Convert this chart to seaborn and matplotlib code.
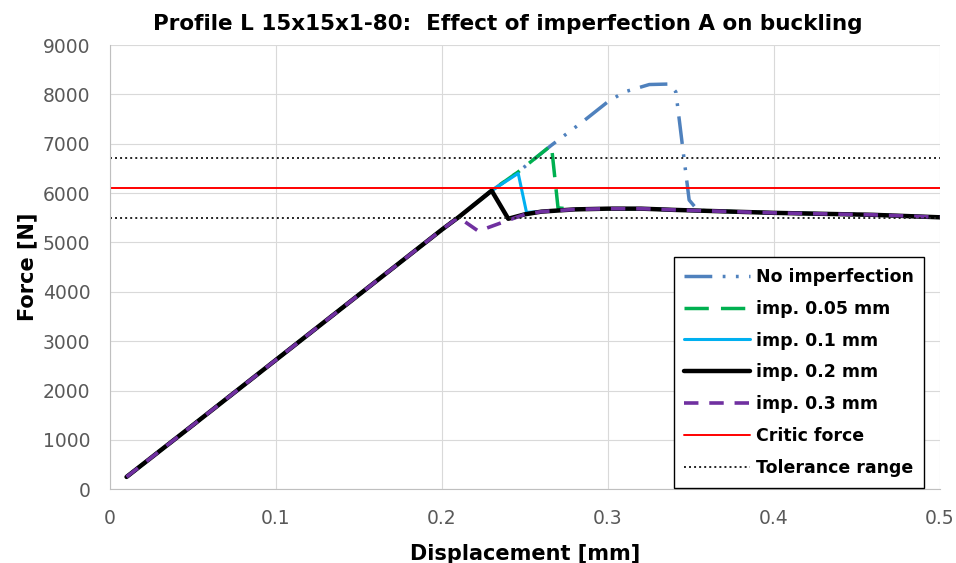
import matplotlib
matplotlib.use("Agg")
import matplotlib.pyplot as plt
import pandas as pd
import seaborn as sns

# shared parts of the curves
lin_x = [0.01, 0.05, 0.10, 0.15, 0.20, 0.21]
lin_y = [250, 1300, 2620, 3940, 5260, 5510]
tail_x = [0.28, 0.30, 0.32, 0.34, 0.36, 0.38, 0.40, 0.43, 0.46, 0.50]
tail_y = [5670, 5685, 5685, 5660, 5640, 5620, 5600, 5580, 5560, 5510]

no_imp_x = lin_x + [0.23, 0.246, 0.266, 0.285, 0.30, 0.31, 0.325, 0.337, 0.341, 0.345, 0.349, 0.354] + tail_x[4:]
no_imp_y = lin_y + [6050, 6430, 6970, 7450, 7850, 8050, 8200, 8210, 8050, 6950, 5860, 5660] + tail_y[4:]

imp005_x = lin_x + [0.23, 0.246, 0.266, 0.27] + tail_x
imp005_y = lin_y + [6050, 6430, 6970, 5700] + tail_y

imp01_x = lin_x + [0.23, 0.246, 0.251, 0.26] + tail_x
imp01_y = lin_y + [6050, 6400, 5610, 5625] + tail_y

imp02_x = lin_x + [0.23, 0.24, 0.25, 0.26] + tail_x
imp02_y = lin_y + [6050, 5480, 5570, 5625] + tail_y

imp03_x = lin_x + [0.222, 0.24, 0.25, 0.26] + tail_x
imp03_y = lin_y + [5230, 5450, 5570, 5625] + tail_y

critic_force = 6100
tolerance = [5490, 6710]

series = [
    ("No imperfection", no_imp_x, no_imp_y, "#4F81BD", 2.5, (0, (8, 3, 0.8, 3, 0.8, 3))),
    ("imp. 0.05 mm", imp005_x, imp005_y, "#00B050", 2.5, (0, (7, 3.5))),
    ("imp. 0.1 mm", imp01_x, imp01_y, "#00B0F0", 2.2, "-"),
    ("imp. 0.2 mm", imp02_x, imp02_y, "#000000", 3.2, "-"),
    ("imp. 0.3 mm", imp03_x, imp03_y, "#7030A0", 2.6, (0, (4, 3))),
]

sns.set_style("whitegrid", {"grid.color": "#D9D9D9", "axes.edgecolor": "#BFBFBF"})
plt.rcParams["font.family"] = ["DejaVu Sans"]

fig, ax = plt.subplots(figsize=(9.56, 5.63), dpi=100)
fig.subplots_adjust(left=0.115, right=0.983, top=0.92, bottom=0.131)

for name, xs, ys, color, lw, ls in series:
    df = pd.DataFrame({"Displacement": xs, "Force": ys})
    sns.lineplot(data=df, x="Displacement", y="Force", sort=False, estimator=None,
                 color=color, linewidth=lw, linestyle=ls, label=name, ax=ax)

ax.axhline(critic_force, color="#FF0000", linewidth=1.4, label="Critic force")
for i, t in enumerate(tolerance):
    ax.axhline(t, color="#222222", linewidth=1.4, linestyle=(0, (1, 1.6)),
               label="Tolerance range" if i == 0 else None)

ax.set_xlim(0, 0.5)
ax.set_ylim(0, 9000)
ax.set_xticks([0, 0.1, 0.2, 0.3, 0.4, 0.5])
ax.set_xticklabels(["0", "0.1", "0.2", "0.3", "0.4", "0.5"])
ax.set_yticks(range(0, 9001, 1000))
ax.tick_params(labelsize=13.5, colors="#595959", length=0)
ax.tick_params(axis="x", pad=14)
ax.tick_params(axis="y", pad=14)
ax.spines["top"].set_visible(False)
ax.spines["right"].set_visible(False)

title = ax.set_title("Profile L 15x15x1-80:  Effect of imperfection A on buckling",
                     fontsize=15.5, fontweight="bold", color="black", pad=11)
title.set_x(0.48)
ax.set_xlabel("Displacement [mm]", fontsize=15, fontweight="bold", color="black", labelpad=12)
ax.set_ylabel("Force [N]", fontsize=15, fontweight="bold", color="black", labelpad=4)

leg = ax.legend(loc="lower right", bbox_to_anchor=(0.983, 0.0),
                prop={"weight": "bold", "size": 12.5}, frameon=True, fancybox=False,
                edgecolor="black", framealpha=1, handlelength=3.8, handletextpad=0.3,
                labelspacing=0.8, borderpad=0.6, borderaxespad=0.1, labelcolor="black")
leg.get_frame().set_linewidth(1.0)

fig.savefig("out.png", dpi=100)
